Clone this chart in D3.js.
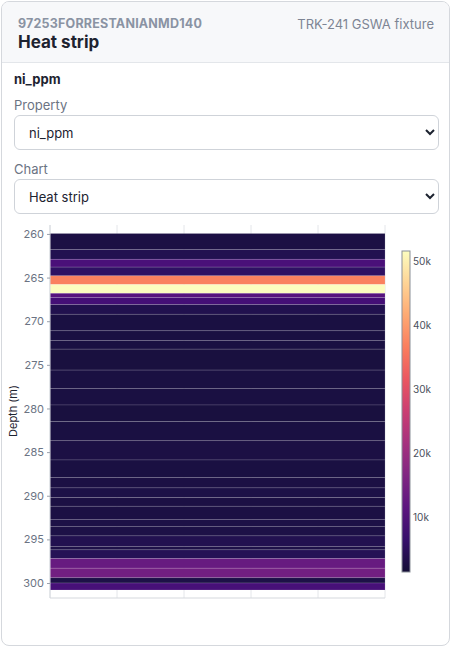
<!DOCTYPE html>
<html><head><meta charset="utf-8">
<script src="https://cdn.jsdelivr.net/npm/d3@7"></script>
<style>
body{margin:0;font-family:Inter,"Noto Sans",sans-serif;background:#fff;}
.card{position:absolute;left:1px;top:1px;width:447px;height:643px;border:1px solid #d5d8dd;border-radius:8px;overflow:hidden;}
.head{height:60px;background:#f7f8fa;border-bottom:1px solid #e3e6ea;position:relative;}
.sub{position:absolute;left:16px;top:14px;font-size:12.5px;font-weight:700;color:#8a93a3;letter-spacing:.2px}
.title{position:absolute;left:16px;top:30px;font-size:17px;font-weight:700;color:#1d2330}
.fix{position:absolute;right:15px;top:14px;font-size:13px;color:#7d8594}
.prop{position:absolute;left:12px;top:69px;font-size:13px;font-weight:700;color:#1d2330}
.lbl{position:absolute;left:12px;font-size:13px;color:#6b7383}
select{position:absolute;left:12px;width:425px;height:35px;border:1px solid #cfd3d9;border-radius:6px;background:#fff;font:13px Inter,sans-serif;color:#1d2330;padding-left:10px}
svg{position:absolute;left:0;top:0}
</style></head><body>
<div class="card">
<div class="head"><div class="sub">97253FORRESTANIANMD140</div><div class="title">Heat strip</div><div class="fix">TRK-241 GSWA fixture</div></div>
<div class="prop">ni_ppm</div>
<div class="lbl" style="top:95px">Property</div>
<select style="top:113px"><option>ni_ppm</option></select>
<div class="lbl" style="top:159px">Chart</div>
<select style="top:177px"><option>Heat strip</option></select>
</div>
<script>
// interval tops/bottoms (m) and ni_ppm values
var depthFrom = [259.95,261.8,262.9,263.8,264.8,265.8,266.8,267.3,268.1,269.2,271.1,272.2,273.2,275.6,277.7,279.6,281.5,283.7,285.9,287.9,289.1,290.2,291.2,292.7,293.5,294.6,295.8,296.2,297.2,298.3,299.4,300.0];
var depthTo   = [261.8,262.9,263.8,264.8,265.8,266.8,267.3,268.1,269.2,271.1,272.2,273.2,275.6,277.7,279.6,281.5,283.7,285.9,287.9,289.1,290.2,291.2,292.7,293.5,294.6,295.8,296.2,297.2,298.3,299.4,300.0,300.8];
var niPpm     = [2600,3800,9000,5600,37000,51600,10500,8200,3600,2500,2400,2500,2300,2400,2500,2300,2400,2600,2500,2700,2900,2600,2700,3000,2800,3800,3200,4200,13000,14500,3000,8500];
var depthTicks = [260,265,270,275,280,285,290,295,300];
var cbarTicks = [10000,20000,30000,40000,50000];

var svg = d3.select('body').append('svg').attr('width',451).attr('height',648);
var y = d3.scaleLinear().domain([259.95,300.8]).range([233.5,590]);
var x = d3.scaleLinear().domain([0,5]).range([50,385]);
var magma = t => d3.interpolateMagma(0.1 + 0.9 * t);
var color = d3.scaleSequential(magma).domain([1400,51600]);

// vertical grid
svg.append('g').selectAll('line').data(d3.range(6)).join('line')
  .attr('x1',d=>x(d)).attr('x2',d=>x(d)).attr('y1',225).attr('y2',598)
  .attr('stroke','#e4e6ea');

svg.append('g').selectAll('rect').data(niPpm).join('rect')
  .attr('x',x(0)).attr('width',x(5)-x(0))
  .attr('y',(d,i)=>y(depthFrom[i])).attr('height',(d,i)=>y(depthTo[i])-y(depthFrom[i]))
  .attr('fill',d=>color(d)).attr('stroke','rgba(255,255,255,0.22)').attr('stroke-width',0.6);

svg.append('line').attr('x1',50).attr('x2',385).attr('y1',598).attr('y2',598).attr('stroke','#d5d8dd');
svg.append('line').attr('x1',50).attr('x2',50).attr('y1',225).attr('y2',598).attr('stroke','#d5d8dd');

var ya = svg.append('g').attr('transform','translate(50,0)')
  .call(d3.axisLeft(y).tickValues(depthTicks).tickSize(3).tickFormat(d3.format('d')));
ya.select('.domain').remove();
ya.selectAll('line').attr('stroke','#9aa1ad');
ya.selectAll('text').attr('fill','#6b7383').style('font-size','11px').style('font-family','Inter,sans-serif');

svg.append('text').attr('transform','translate(17,411) rotate(-90)').attr('text-anchor','middle')
  .style('font-size','11px').style('font-family','Inter,sans-serif').attr('fill','#1d2330').text('Depth (m)');

// colour bar
var cy = d3.scaleLinear().domain([1400,51600]).range([572,251]);
var defs = svg.append('defs');
var grad = defs.append('linearGradient').attr('id','cb').attr('x1',0).attr('x2',0).attr('y1',1).attr('y2',0);
grad.selectAll('stop').data(d3.range(0,1.01,0.1)).join('stop')
  .attr('offset',d=>d).attr('stop-color',d=>magma(d));
svg.append('rect').attr('x',402).attr('y',251).attr('width',8).attr('height',321)
  .attr('fill','url(#cb)').attr('stroke','#8a8f98').attr('stroke-width',1);
var ca = svg.append('g').attr('transform','translate(410,0)')
  .call(d3.axisRight(cy).tickValues(cbarTicks).tickSize(0).tickPadding(3).tickFormat(d=>d/1000+'k'));
ca.select('.domain').remove();
ca.selectAll('text').attr('fill','#4a505c').style('font-size','10px').style('font-family','Inter,sans-serif');
</script>
</body></html>
